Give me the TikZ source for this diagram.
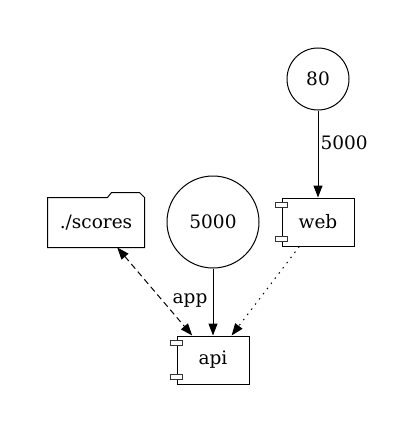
\documentclass[tikz,border=0pt]{standalone}
\usepackage{fontspec}
\setmainfont{DejaVu Serif}
\usetikzlibrary{arrows.meta}
\tikzset{
  base/.style={line width=1pt, font=\fontsize{18.5}{20}\selectfont, inner sep=0pt},
  circ/.style={base, draw, circle},
  comp/.style={base, draw, rectangle, minimum width=72pt, minimum height=48pt},
  folder/.style={base, rectangle, minimum width=96pt, minimum height=49pt},
  tip/.tip={Triangle[length=12pt,width=9pt]},
  conn/.style={line width=1pt, -tip},
  lbl/.style={font=\fontsize{18.5}{20}\selectfont, inner sep=2pt},
  pin/.style={line width=0.8pt, draw=black!80, fill=white}
}
\begin{document}
\begin{tikzpicture}[x=1pt,y=-1pt]
\useasboundingbox (0,0) rectangle (416,433);
\node[circ, minimum size=62pt] (c80) at (318,79) {80};
\node[circ, minimum size=92pt] (c5000) at (213,222) {5000};
\node[comp] (web) at (318,222) {web};
\node[comp] (api) at (213,360) {api};
\node[folder] (scores) at (96,222.5) {./scores};
% folder outline
\draw[line width=1pt] (scores.south west) -- (scores.north west)
  -- ([xshift=60pt]scores.north west) -- ([xshift=64pt,yshift=5pt]scores.north west)
  -- ([xshift=92pt,yshift=5pt]scores.north west) -- (scores.north east)
  -- (scores.south east) -- cycle;
% component pins
\foreach \n in {web,api}{
  \draw[pin] ([xshift=-6pt,yshift=-5pt]\n.north west) rectangle ([xshift=6pt,yshift=-10pt]\n.north west);
  \draw[pin] ([xshift=-6pt,yshift=5pt]\n.south west) rectangle ([xshift=6pt,yshift=10pt]\n.south west);
}
% connectors
\draw[conn] (c80) -- node[lbl, right, pos=0.37] (l5000) {5000} (web);
\draw[conn] (c5000) -- (api);
\draw[conn, dashed, dash pattern=on 6pt off 4pt, tip-tip] (scores) -- node[lbl, right=8pt, pos=0.6] (lapp) {app} (api);
\draw[conn, dotted, dash pattern=on 1.5pt off 5pt] (web) -- (api);
\end{tikzpicture}
\end{document}
